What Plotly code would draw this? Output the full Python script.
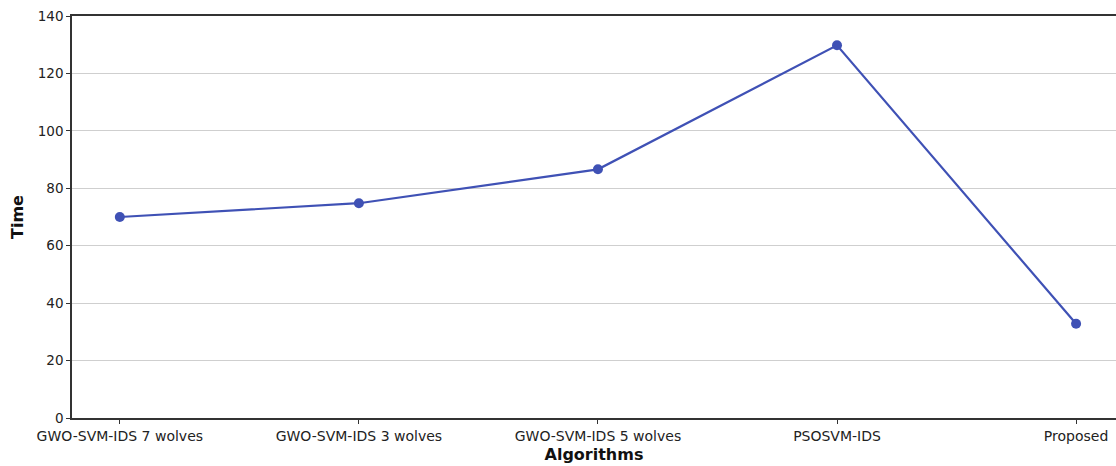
import plotly.graph_objects as go

algorithms = ["GWO-SVM-IDS 7 wolves", "GWO-SVM-IDS 3 wolves", "GWO-SVM-IDS 5 wolves", "PSOSVM-IDS", "Proposed"]
times = [70.0, 74.8, 86.6, 129.8, 32.8]
y_ticks = [0, 20, 40, 60, 80, 100, 120, 140]

color = "#3f51b5"
font_family = "DejaVu Sans"

fig = go.Figure()
fig.add_trace(go.Scatter(
    x=list(range(len(algorithms))), y=times,
    mode="lines+markers",
    line=dict(color=color, width=2.2),
    marker=dict(color=color, size=10),
    showlegend=False,
))

fig.update_layout(
    width=1116, height=466,
    margin=dict(l=72, r=0, t=16, b=48),
    paper_bgcolor="white", plot_bgcolor="white",
    font=dict(family=font_family, size=13, color="#222"),
    xaxis=dict(
        range=[-0.2, 4.167],
        automargin=False,
        tickmode="array", tickvals=list(range(len(algorithms))), ticktext=algorithms,
        tickfont=dict(size=14),
        showgrid=False, zeroline=False,
        showline=True, linecolor="#333", linewidth=1.5, mirror=True,
        ticks="outside", ticklen=4, tickcolor="#333",
        title=dict(text="<b>Algorithms</b>", font=dict(size=16, color="#111"), standoff=6),
    ),
    yaxis=dict(
        range=[0, 140],
        automargin=False,
        tickmode="array", tickvals=y_ticks,
        tickfont=dict(size=13.5),
        showgrid=True, gridcolor="#cfcfcf", gridwidth=1,
        zeroline=False,
        showline=True, linecolor="#333", linewidth=1.5,
        ticks="outside", ticklen=4, tickcolor="#333",
        title=dict(text="<b>Time</b>", font=dict(size=16, color="#111"), standoff=10),
    ),
)

fig.write_html(
    "out.html",
    config={"displayModeBar": False},
    post_script="document.body.style.margin='0';",
)
